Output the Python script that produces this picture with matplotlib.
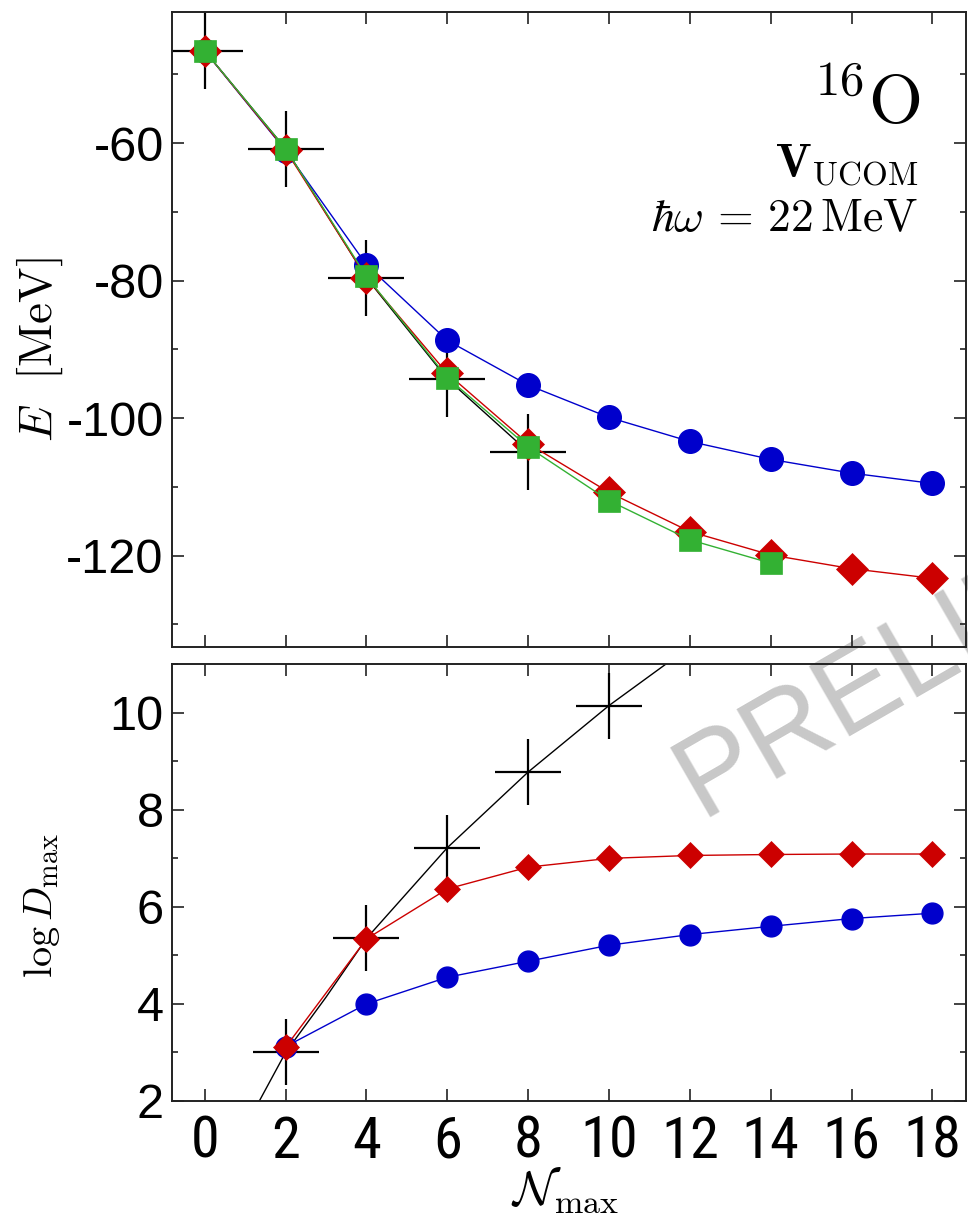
import matplotlib
matplotlib.use('Agg')
import matplotlib.pyplot as plt
from matplotlib import font_manager
from matplotlib.ticker import MultipleLocator

plt.rcParams['mathtext.fontset'] = 'cm'
plt.rcParams['axes.unicode_minus'] = False

# look for a narrow sans font for the x tick labels
narrow = font_manager.FontProperties(family='Liberation Sans')
for f in font_manager.fontManager.ttflist:
    tag = (f.name + ' ' + f.fname).lower()
    if ('narrow' in tag or 'condensed' in tag) and 'bold' not in tag and 'italic' not in tag \
            and 'light' not in tag and 'oblique' not in tag and 'serif' not in f.name.lower():
        narrow = font_manager.FontProperties(fname=f.fname)
        if 'liberation' in tag:
            break

# energies (top panel)
N_all = [0, 2, 4, 6, 8, 10, 12, 14, 16, 18]
E_blue = [-46.6, -61.1, -77.7, -88.7, -95.2, -99.9, -103.4, -106.0, -108.0, -109.5]
E_red = [-46.6, -61.0, -79.6, -93.5, -103.7, -110.8, -116.5, -119.9, -121.9, -123.3]
N_green = [0, 2, 4, 6, 8, 10, 12, 14]
E_green = [-46.6, -60.8, -79.4, -94.1, -104.2, -112.0, -117.7, -121.1]
N_cross = [0, 2, 4, 6, 8]
E_cross = [-46.6, -60.8, -79.6, -94.3, -104.9]

# log of basis dimension (bottom panel)
N_dim = [2, 4, 6, 8, 10, 12, 14, 16, 18]
D_blue = [3.12, 4.0, 4.55, 4.88, 5.21, 5.43, 5.60, 5.76, 5.87]
D_red = [3.11, 5.34, 6.37, 6.82, 7.0, 7.06, 7.08, 7.09, 7.09]
N_dcross = [2, 4, 6, 8, 10]
D_cross = [3.0, 5.35, 7.22, 8.78, 10.15]
N_dline = [1.35, 2, 3, 4, 6, 8, 10, 11.4]
D_line = [2.0, 3.0, 4.14, 5.35, 7.22, 8.78, 10.15, 11.0]

blue = '#0000cc'
red = '#cc0000'
green = '#33b133'

fig = plt.figure(figsize=(9.68, 12.14), dpi=100)
ax1 = fig.add_axes([0.1777, 0.4670, 0.8202, 0.5233])
ax2 = fig.add_axes([0.1777, 0.0931, 0.8202, 0.3597])

# watermark behind everything
fig.text(700 / 968, 1 - 817 / 1214, 'PRELIMINARY', rotation=30, rotation_mode='anchor',
         ha='left', va='baseline', fontsize=84, color='#c8c8c8',
         family='Liberation Sans', zorder=-5)

ax1.plot(N_cross, E_cross, color='black', lw=1, marker='+', ms=55, mew=1.6, zorder=2)
ax1.plot(N_all, E_blue, color=blue, lw=1, marker='o', ms=17, mec=blue, zorder=3)
ax1.plot(N_all, E_red, color=red, lw=1, marker='D', ms=15.8, mec=red, mew=0.5, zorder=4)
ax1.plot(N_green, E_green, color=green, lw=1, marker='s', ms=15.8, mec=green, mew=0.5, zorder=5)

ax2.plot(N_dline, D_line, color='black', lw=1, zorder=2)
ax2.plot(N_dcross, D_cross, color='black', lw=0, marker='+', ms=48, mew=1.6, zorder=2)
ax2.plot(N_dim, D_blue, color=blue, lw=1, marker='o', ms=15, mec=blue, zorder=3)
ax2.plot(N_dim, D_red, color=red, lw=1, marker='D', ms=13.2, mec=red, mew=0.5, zorder=4)

for ax in (ax1, ax2):
    ax.set_facecolor('none')
    ax.set_xlim(-0.81, 18.83)
    ax.xaxis.set_major_locator(MultipleLocator(2))
    ax.tick_params(which='both', direction='in', top=True, right=True, width=1.2,
                   color='#222222')
    ax.tick_params(which='major', length=8.6)
    ax.tick_params(which='minor', length=4.3)
    for s in ax.spines.values():
        s.set_linewidth(1.4)
        s.set_color('#222222')
    ax.tick_params(axis='y', labelsize=35, pad=6)

ax1.set_ylim(-133.3, -40.9)
ax1.yaxis.set_minor_locator(MultipleLocator(10))
ax1.set_yticks([-60, -80, -100, -120])
ax1.tick_params(axis='x', labelbottom=False)
for lab in ax1.get_yticklabels():
    lab.set_family('Liberation Sans')

ax2.set_ylim(2, 11)
ax2.yaxis.set_major_locator(MultipleLocator(2))
ax2.yaxis.set_minor_locator(MultipleLocator(1))
ax2.tick_params(axis='x', labelsize=42, pad=10)
for lab in ax2.get_xticklabels():
    lab.set_fontproperties(narrow)
    lab.set_fontsize(42)
for lab in ax2.get_yticklabels():
    lab.set_family('Liberation Sans')

fig.text(40 / 968, 1 - 350 / 1214, r'$E\ \ [\mathrm{MeV}]$', rotation=90,
         ha='center', va='center', fontsize=34)
fig.text(42 / 968, 1 - 906 / 1214, r'$\log D_{\max}$', rotation=90,
         ha='center', va='center', fontsize=29)
fig.text(565 / 968, 1 - 1190 / 1214, r'$\mathcal{N}_{\max}$',
         ha='center', va='center', fontsize=35)

fig.text(920 / 968, 1 - 123 / 1214, r'$^{16}\mathrm{O}$', ha='right', va='baseline', fontsize=50)
fig.text(918 / 968, 1 - 176 / 1214, r'$\mathbf{V}_{\mathrm{UCOM}}$', ha='right', va='baseline', fontsize=34)
fig.text(918 / 968, 1 - 231 / 1214, r'$\hbar\omega\,=\,22\,\mathrm{MeV}$', ha='right', va='baseline', fontsize=33)

fig.savefig('out.png', dpi=100)
